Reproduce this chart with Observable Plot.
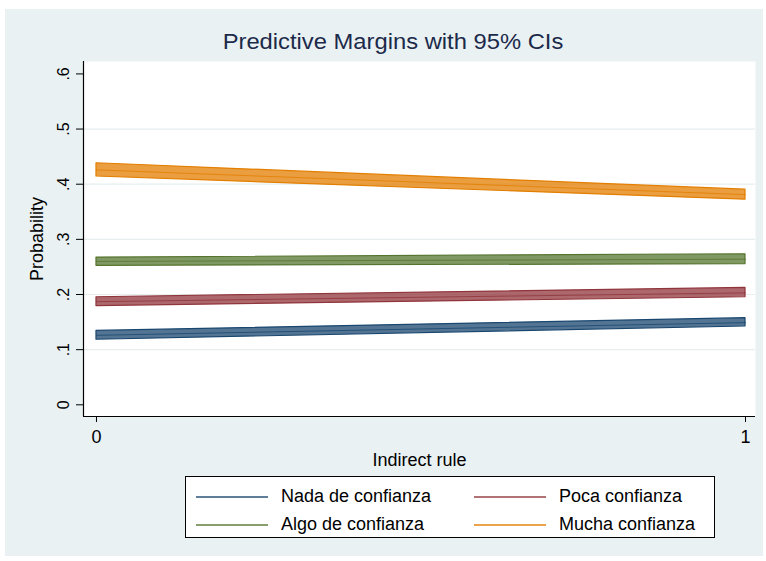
<!DOCTYPE html>
<html>
<head>
<meta charset="utf-8">
<script src="https://cdn.jsdelivr.net/npm/d3@7"></script>
<script src="https://cdn.jsdelivr.net/npm/@observablehq/plot@0.6"></script>
<style>
  html, body { margin: 0; padding: 0; background: #ffffff; width: 766px; height: 561px; overflow: hidden; font-family: "Liberation Sans", Arial, sans-serif; }
  #bg { position: absolute; left: 5px; top: 9px; width: 758px; height: 547px; background: #e9f1f3; }
  #title { position: absolute; left: 0; top: 29px; width: 786px; text-align: center; font-size: 22px; color: #1c2a4a; transform: scaleX(1.08); transform-origin: 393px 0; }
  #chart { position: absolute; left: 0; top: 0; }
  #legend { position: absolute; left: 185px; top: 476px; width: 528px; height: 60px; border: 1px solid #000; background: #ffffff; }
  .item { position: absolute; font-size: 18px; color: #000; display: flex; align-items: center; }
  .sw { width: 72px; height: 0; border-top: 2px solid; margin-right: 13px; }
</style>
</head>
<body>
<div id="bg"></div>
<div id="title">Predictive Margins with 95% CIs</div>
<div id="chart"></div>
<div id="legend"></div>
<script>
// ---- data ----
const xValues = [0, 1];
const seriesNames = ["Nada de confianza", "Poca confianza", "Algo de confianza", "Mucha confianza"];
const seriesColors = ["#1a476f", "#90353b", "#55752f", "#e37e00"];

const nadaMid  = [0.126, 0.149];
const nadaLo   = [0.118, 0.142];
const nadaHi   = [0.134, 0.157];

const pocaMid  = [0.187, 0.203];
const pocaLo   = [0.179, 0.195];
const pocaHi   = [0.195, 0.212];

const algoMid  = [0.260, 0.264];
const algoLo   = [0.252, 0.255];
const algoHi   = [0.267, 0.273];

const muchaMid = [0.426, 0.381];
const muchaLo  = [0.414, 0.372];
const muchaHi  = [0.438, 0.390];

const yTicks = [0, 0.1, 0.2, 0.3, 0.4, 0.5, 0.6];
const gridTicks = [0.1, 0.2, 0.3, 0.4, 0.5];
const xTicks = [0, 1];

// ---- build table ----
const mids = [nadaMid, pocaMid, algoMid, muchaMid];
const los = [nadaLo, pocaLo, algoLo, muchaLo];
const his = [nadaHi, pocaHi, algoHi, muchaHi];
const rows = [];
seriesNames.forEach((s, i) => {
  xValues.forEach((x, j) => {
    rows.push({series: s, x, mid: mids[i][j], lo: los[i][j], hi: his[i][j]});
  });
});

const xDomain = [-0.02, 1.0154];
const yDomain = [-0.0212, 0.6225];
const fmt = d => d === 0 ? "0" : d3.format(".1f")(d).replace(/^0/, "");

const W = 766, H = 470;
const chart = Plot.plot({
  width: W,
  height: H,
  marginLeft: 83,
  marginRight: 11,
  marginTop: 61,
  marginBottom: H - 416,
  style: { background: "transparent", fontFamily: "Liberation Sans, Arial, sans-serif", fontSize: "16px", color: "#000", overflow: "visible" },
  x: { domain: xDomain },
  y: { domain: yDomain },
  color: { domain: seriesNames, range: seriesColors },
  marks: [
    Plot.frame({ fill: "#ffffff", stroke: "none" }),
    Plot.ruleY(gridTicks, { stroke: "#e6eef0", strokeWidth: 1.2 }),
    Plot.areaY(rows, { x: "x", y1: "lo", y2: "hi", z: "series", fill: "series", fillOpacity: 0.75, stroke: "series", strokeWidth: 1.2 }),
    Plot.lineY(rows, { x: "x", y: "mid", z: "series", stroke: "series", strokeWidth: 1, strokeOpacity: 0.8 }),
    Plot.ruleX([xDomain[0]], { stroke: "#000", strokeWidth: 1.2 }),
    Plot.ruleY([yDomain[0]], { stroke: "#000", strokeWidth: 1.2 }),
    Plot.axisX({ ticks: xTicks, tickSize: 6, tickPadding: 8, tickFormat: d => String(d), fontSize: 18,
                 label: "Indirect rule", labelAnchor: "center", labelOffset: 49, labelArrow: "none" }),
    Plot.axisY({ ticks: yTicks, tickSize: 7, tickPadding: 8, tickFormat: fmt, tickRotate: -90, fontSize: 16,
                 label: "Probability", labelAnchor: "center", labelOffset: 53, labelArrow: "none" })
  ]
});
document.getElementById("chart").appendChild(chart);
// axis title sizes
chart.querySelectorAll("[aria-label='x-axis label'] text, [aria-label='y-axis label'] text").forEach(t => t.setAttribute("font-size", 18));

// ---- legend ----
const legend = document.getElementById("legend");
const pos = [[10, 9], [288, 9], [10, 37], [288, 37]];
seriesNames.forEach((s, i) => {
  const it = document.createElement("div");
  it.className = "item";
  it.style.left = pos[i][0] + "px";
  it.style.top = pos[i][1] + "px";
  const sw = document.createElement("div");
  sw.className = "sw";
  sw.style.borderColor = seriesColors[i];
  sw.style.opacity = 0.7;
  const tx = document.createElement("span");
  tx.textContent = s;
  it.appendChild(sw);
  it.appendChild(tx);
  legend.appendChild(it);
});
</script>
</body>
</html>
